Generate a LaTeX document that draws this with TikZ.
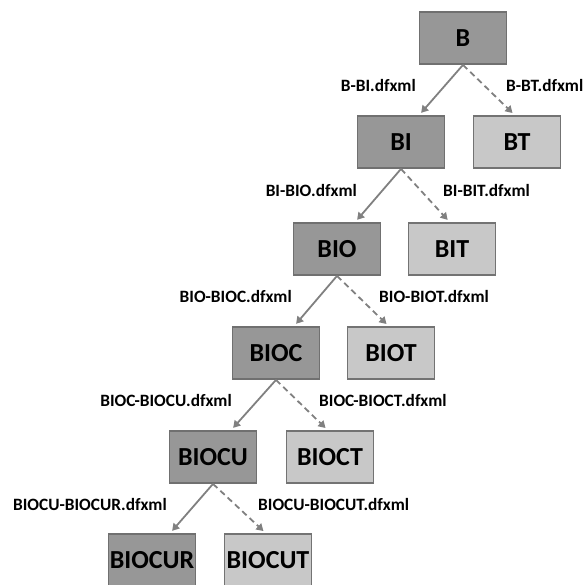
\documentclass[tikz,border=0pt]{standalone}
\usepackage{fontspec}
\setmainfont{Carlito}
\usepackage{tikz}
\usetikzlibrary{arrows.meta,calc,positioning}
\usepackage{xcolor}
\definecolor{darkbox}{HTML}{979797}
\definecolor{lightbox}{HTML}{C8C8C8}
\definecolor{boxline}{HTML}{707070}
\definecolor{edgegray}{HTML}{808080}

\tikzset{
  kept/.style={draw=boxline,line width=1.8pt,fill=darkbox,minimum width=87pt,minimum height=52pt,
    inner sep=0pt,font=\fontsize{26}{28}\selectfont\bfseries},
  dropped/.style={kept,fill=lightbox,draw=edgegray!90!black},
  edgelbl/.style={inner sep=0pt,font=\fontsize{17.3}{19}\selectfont\bfseries},
  keep/.style={edgegray,line width=1.8pt,-{Triangle[length=7pt,width=8pt]},shorten >=3pt},
  drop/.style={keep,dash pattern=on 6pt off 4pt}
}

\begin{document}
\begin{tikzpicture}[x=1pt,y=1pt]
  \useasboundingbox (0,0) rectangle (586,584);
  \clip (0,0) rectangle (586,584);
  % boxes
  \node[kept] (B) at (463,546) {B};
  \node[kept] (BI) at (401,442) {BI};
  \node[dropped] (BT) at (517,442) {BT};
  \node[kept] (BIO) at (337,335) {BIO};
  \node[dropped] (BIT) at (452,335) {BIT};
  \node[kept] (BIOC) at (276,231) {BIOC};
  \node[dropped] (BIOT) at (391,231) {BIOT};
  \node[kept] (BIOCU) at (213,127) {BIOCU};
  \node[dropped] (BIOCT) at (330,127) {BIOCT};
  \node[kept] (BIOCUR) at (152,24) {BIOCUR};
  \node[dropped] (BIOCUT) at (268,24) {BIOCUT};
  % edges
  \draw[keep] (B.south) -- (BI.56);
  \draw[drop] (B.south) -- (BT.95);
  \draw[keep] (BI.south) -- (BIO.56);
  \draw[drop] (BI.south) -- (BIT.95);
  \draw[keep] (BIO.south) -- (BIOC.56);
  \draw[drop] (BIO.south) -- (BIOT.95);
  \draw[keep] (BIOC.south) -- (BIOCU.56);
  \draw[drop] (BIOC.south) -- (BIOCT.95);
  \draw[keep] (BIOCU.south) -- (BIOCUR.56);
  \draw[drop] (BIOCU.south) -- (BIOCUT.95);
  % file names
  \node[edgelbl,anchor=east] (lB1) at ($(B.south)+(-47,-21)$) {B-BI.dfxml};
  \node[edgelbl,anchor=west] (lB2) at ($(B.south)+(43,-21)$) {B-BT.dfxml};
  \node[edgelbl,anchor=east] (lBI1) at ($(BI.south)+(-44,-22)$) {BI-BIO.dfxml};
  \node[edgelbl,anchor=west] (lBI2) at ($(BI.south)+(42,-22)$) {BI-BIT.dfxml};
  \node[edgelbl,anchor=east] (lBIO1) at ($(BIO.south)+(-45,-21)$) {BIO-BIOC.dfxml};
  \node[edgelbl,anchor=west] (lBIO2) at ($(BIO.south)+(42,-21)$) {BIO-BIOT.dfxml};
  \node[edgelbl,anchor=east] (lBIOC1) at ($(BIOC.south)+(-44,-21)$) {BIOC-BIOCU.dfxml};
  \node[edgelbl,anchor=west] (lBIOC2) at ($(BIOC.south)+(43,-21)$) {BIOC-BIOCT.dfxml};
  \node[edgelbl,anchor=east] (lBIOCU1) at ($(BIOCU.south)+(-46,-21)$) {BIOCU-BIOCUR.dfxml};
  \node[edgelbl,anchor=west] (lBIOCU2) at ($(BIOCU.south)+(45,-21)$) {BIOCU-BIOCUT.dfxml};
\end{tikzpicture}
\end{document}
